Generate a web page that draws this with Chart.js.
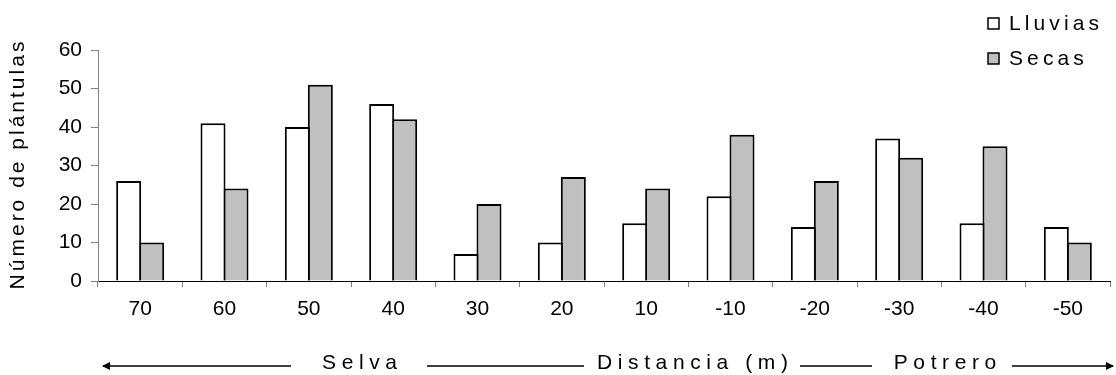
<!DOCTYPE html>
<html>
<head>
<meta charset="utf-8">
<script src="https://cdn.jsdelivr.net/npm/chart.js@4/dist/chart.umd.min.js"></script>
<style>
  html, body { margin: 0; padding: 0; background: #fff; }
  #wrap { width: 1116px; height: 375px; }
</style>
</head>
<body>
<div id="wrap"><canvas id="c" width="1116" height="375"></canvas></div>
<script>
const categories = ['70', '60', '50', '40', '30', '20', '10', '-10', '-20', '-30', '-40', '-50'];
const lluvias = [26, 41, 40, 46, 7, 10, 15, 22, 14, 37, 15, 14];
const secas = [10, 24, 51, 42, 20, 27, 24, 38, 26, 32, 35, 10];
const seriesNames = ['Lluvias', 'Secas'];
const yTicks = [0, 10, 20, 30, 40, 50, 60];
const yTitle = 'Número de plántulas';
const regionLabels = ['Selva', 'Distancia (m)', 'Potrero'];

const FONT = '"Liberation Sans", Arial, sans-serif';
const FSIZE = 21;

function spacedText(ctx, text, x, y, ls, align) {
  const chars = Array.from(text);
  const widths = chars.map(c => ctx.measureText(c).width);
  const total = widths.reduce((a, b) => a + b, 0) + ls * (chars.length - 1);
  let cx = align === 'center' ? x - total / 2 : x;
  ctx.textAlign = 'left';
  chars.forEach((c, i) => { ctx.fillText(c, cx, y); cx += widths[i] + ls; });
  return total;
}

const decor = {
  id: 'decor',
  afterDraw(chart) {
    const ctx = chart.ctx;
    const ca = chart.chartArea;
    ctx.save();
    ctx.font = FSIZE + 'px ' + FONT;
    ctx.fillStyle = '#000';
    ctx.textBaseline = 'middle';

    // Y axis title (rotated)
    ctx.save();
    ctx.translate(18, (ca.top + ca.bottom) / 2);
    ctx.rotate(-Math.PI / 2);
    spacedText(ctx, yTitle, 0, 0, 3, 'center');
    ctx.restore();

    // Legend
    chart.data.datasets.forEach((ds, i) => {
      const by = 18 + 35 * i;
      ctx.fillStyle = ds.backgroundColor;
      ctx.fillRect(988, by, 11, 11);
      ctx.strokeStyle = '#000';
      ctx.lineWidth = 1.5;
      ctx.strokeRect(988, by, 11, 11);
      ctx.fillStyle = '#000';
      spacedText(ctx, ds.label, 1009, by + 6, 4.1, 'left');
    });

    // Bottom direction annotation
    const ly = 366;
    ctx.strokeStyle = '#000';
    ctx.lineWidth = 1.6;
    const segs = [[103, 291], [427, 584], [800, 872], [1012, 1113]];
    segs.forEach(s => {
      ctx.beginPath();
      ctx.moveTo(s[0], ly);
      ctx.lineTo(s[1], ly);
      ctx.stroke();
    });
    ctx.fillStyle = '#000';
    ctx.beginPath();
    ctx.moveTo(102, ly); ctx.lineTo(110, ly - 4); ctx.lineTo(110, ly + 4); ctx.closePath(); ctx.fill();
    ctx.beginPath();
    ctx.moveTo(1114, ly); ctx.lineTo(1106, ly - 4); ctx.lineTo(1106, ly + 4); ctx.closePath(); ctx.fill();
    const centers = [359.5, 692.5, 945];
    regionLabels.forEach((t, i) => spacedText(ctx, t, centers[i], 363, 5.6, 'center'));
    ctx.restore();
  }
};

new Chart(document.getElementById('c'), {
  type: 'bar',
  data: {
    labels: categories,
    datasets: [
      { label: seriesNames[0], data: lluvias, backgroundColor: '#ffffff', borderColor: '#000000', borderWidth: 2, inflateAmount: 0 },
      { label: seriesNames[1], data: secas, backgroundColor: '#c0c0c0', borderColor: '#000000', borderWidth: 2, inflateAmount: 0 }
    ]
  },
  options: {
    responsive: false,
    animation: false,
    devicePixelRatio: 1,
    layout: { padding: { top: 50, right: 6, left: 0, bottom: 0 } },
    datasets: { bar: { categoryPercentage: 0.5455, barPercentage: 1.087 } },
    plugins: { legend: { display: false }, tooltip: { enabled: false } },
    scales: {
      x: {
        offset: true,
        grid: { offset: true, drawOnChartArea: false, drawTicks: true, tickLength: 6, color: '#808080' },
        border: { display: true, color: '#000000', width: 1 },
        ticks: { color: '#000', font: { family: FONT, size: FSIZE }, padding: 10, maxRotation: 0, autoSkip: false },
        afterFit(scale) { scale.height = 94; }
      },
      y: {
        min: yTicks[0],
        max: yTicks[yTicks.length - 1],
        grid: { drawOnChartArea: false, drawTicks: true, tickLength: 7, color: '#808080' },
        border: { display: true, color: '#808080', width: 1 },
        ticks: { stepSize: yTicks[1] - yTicks[0], color: '#000', font: { family: FONT, size: FSIZE }, padding: 9 },
        afterFit(scale) { scale.width = 98; }
      }
    }
  },
  plugins: [decor]
});
</script>
</body>
</html>
